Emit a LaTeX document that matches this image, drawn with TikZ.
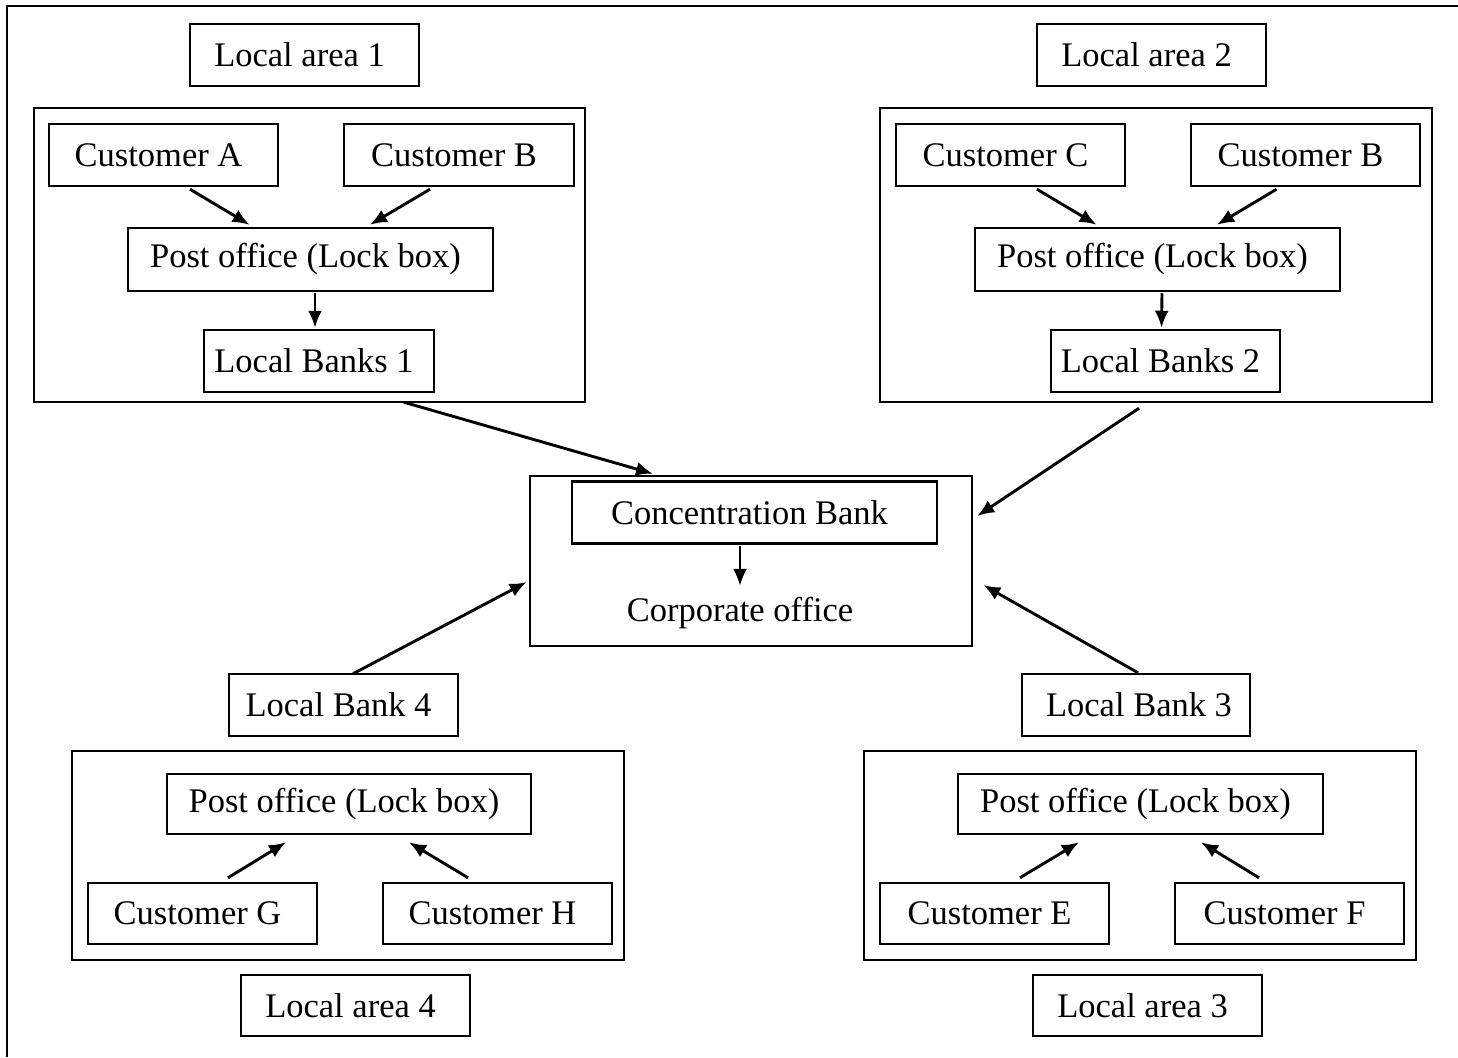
\documentclass[tikz,border=0pt]{standalone}
\usepackage{fontspec}
\setmainfont{Liberation Serif}
\usetikzlibrary{arrows.meta,calc}
\tikzset{
  bx/.style 2 args={draw, line width=2.5pt, rectangle, inner sep=0pt,
    minimum width=#1pt, minimum height=#2pt, execute at end node={\kern10pt}},
  lbl/.style={inner sep=0pt},
  arr/.style={line width=2.9pt, -{Latex[length=17pt,width=14pt]}},
  frame/.style={line width=1.5pt}
}
\begin{document}
\begin{tikzpicture}[x=1pt,y=-1pt,font=\fontsize{34.5}{40}\selectfont]
\useasboundingbox (0,0) rectangle (1458,1057);
\draw[frame] (7,1057) -- (7,6) -- (1458,6);

% ---- Local area 1
\node[bx={229}{62}] (la1) at (304.5,55) {Local area 1};
\node[bx={551}{294}] (area1) at (309.5,255) {};
\node[bx={229}{62}] (ca) at (163.5,155) {Customer A};
\node[bx={230}{62}] (cb1) at (459,155) {Customer B};
\node[bx={365}{63}] (po1) at (310.5,259.5) {Post office (Lock box)};
\node[bx={230}{62}] (lb1) at (319,361) {Local Banks 1};

% ---- Local area 2
\node[bx={229}{62}] (la2) at (1151.5,55) {Local area 2};
\node[bx={552}{294}] (area2) at (1156,255) {};
\node[bx={229}{62}] (cc) at (1010.5,155) {Customer C};
\node[bx={229}{62}] (cb2) at (1305.5,155) {Customer B};
\node[bx={365}{63}] (po2) at (1157.5,259.5) {Post office (Lock box)};
\node[bx={229}{62}] (lb2) at (1165.5,361) {Local Banks 2};

% ---- Corporate office
\node[bx={442}{170}] (corp) at (751,561) {};
\node[bx={365}{62}] (conc) at (754.5,512.5) {Concentration Bank};
\node[lbl] (office) at (740,613) {Corporate office};

% ---- Local area 4
\node[bx={229}{62}] (lbk4) at (343.5,705) {Local Bank 4};
\node[bx={552}{209}] (area4) at (348,855.5) {};
\node[bx={364}{60}] (po4) at (349,804) {Post office (Lock box)};
\node[bx={229}{61}] (cg) at (202.5,913.5) {Customer G};
\node[bx={229}{61}] (ch) at (497.5,913.5) {Customer H};
\node[bx={229}{61}] (la4) at (355.5,1005.5) {Local area 4};

% ---- Local area 3
\node[bx={228}{62}] (lbk3) at (1136,705) {\kern16pt Local Bank 3};
\node[bx={552}{209}] (area3) at (1140,855.5) {};
\node[bx={365}{60}] (po3) at (1140.5,804) {Post office (Lock box)};
\node[bx={229}{61}] (ce) at (994.5,913.5) {Customer E};
\node[bx={229}{61}] (cf) at (1289.5,913.5) {Customer F};
\node[bx={229}{61}] (la3) at (1147.5,1005.5) {Local area 3};

% ---- arrows inside area 1 and 2
\draw[arr] ($(ca.south)+(26.5,2)$) -- ($(po1.north)+(-61,-2)$);
\draw[arr] ($(cb1.south)+(-29,2)$) -- ($(po1.north)+(59.5,-2)$);
\draw[arr] ($(po1.south)+(4.5,1)$) -- ($(lb1.north)+(-4,-1)$);
\draw[arr] ($(cc.south)+(26.5,2)$) -- ($(po2.north)+(-61,-2)$);
\draw[arr] ($(cb2.south)+(-29,2)$) -- ($(po2.north)+(59.5,-2)$);
\draw[arr] ($(po2.south)+(4.5,1)$) -- ($(lb2.north)+(-4,-1)$);

% ---- arrows to corporate office
\draw[arr] ($(area1.south)+(94.5,-1)$) -- ($(corp.north)+(-98,-1)$);
\draw[arr] ($(area2.south)+(-17,5)$) -- ($(corp.east)+(4,-45)$);
\draw[arr] ($(lbk4.north)+(9.5,1)$) -- ($(corp.west)+(-2,21)$);
\draw[arr] ($(lbk3.north)+(2,0)$) -- ($(corp.east)+(10,24)$);
\draw[arr] ($(conc.south)+(-14.5,1.5)$) -- ($(office.north)+(0,-11)$);

% ---- arrows inside area 4 and 3
\draw[arr] ($(cg.north)+(25.5,-4)$) -- ($(po4.south)+(-63,7)$);
\draw[arr] ($(ch.north)+(-29.5,-4)$) -- ($(po4.south)+(60,7)$);
\draw[arr] ($(ce.north)+(25.5,-4)$) -- ($(po3.south)+(-61.5,7)$);
\draw[arr] ($(cf.north)+(-30.5,-4)$) -- ($(po3.south)+(60.5,7)$);
\end{tikzpicture}
\end{document}
